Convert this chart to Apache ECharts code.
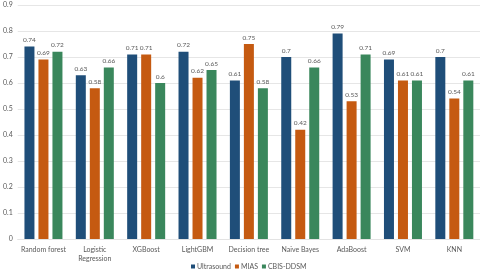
<!DOCTYPE html>
<html><head><meta charset="utf-8">
<script src="https://cdn.jsdelivr.net/npm/echarts@6/dist/echarts.min.js"></script>
<style>html,body{margin:0;padding:0;background:#fff}#c{width:480px;height:272px}</style>
</head><body><div id="c"></div>
<script>
const categories = ['Random forest','Logistic\nRegression','XGBoost','LightGBM','Decision tree','Naive Bayes','AdaBoost','SVM','KNN'];
const ultrasound = [0.74,0.63,0.71,0.72,0.61,0.7,0.79,0.69,0.7];
const mias = [0.69,0.58,0.71,0.62,0.75,0.42,0.53,0.61,0.54];
const cbis = [0.72,0.66,0.6,0.65,0.58,0.66,0.71,0.61,0.61];
const yTicks = [0,0.1,0.2,0.3,0.4,0.5,0.6,0.7,0.8,0.9];
const font = 'Lato, Liberation Sans, sans-serif';
function mk(name, data, color){
  return {name, type:'bar', data, barWidth:10, barGap:'40%',
    itemStyle:{color},
    label:{show:true, position:'top', distance:3, color:'#595959', fontSize:6.5, fontFamily:font}};
}
const chart = echarts.init(document.getElementById('c'));
chart.setOption({
  animation:false,
  grid:{left:17,right:-5,top:5,bottom:33,containLabel:false},
  legend:{top:263,left:191,itemWidth:4,itemHeight:4,itemGap:4,icon:'rect',padding:0,
    textStyle:{color:'#595959',fontSize:7,fontFamily:font,padding:[0,0,0,-3]}},
  xAxis:{type:'category',data:categories,
    axisLine:{show:true,lineStyle:{color:'#e3e3e3'}},axisTick:{show:false},
    axisLabel:{color:'#595959',fontSize:7,fontFamily:font,margin:6,interval:0,lineHeight:9}},
  yAxis:{type:'value',min:0,max:0.9,interval:0.1,
    axisLine:{show:false},axisTick:{show:false},
    splitLine:{lineStyle:{color:'#e6e6e6'}},
    axisLabel:{color:'#595959',fontSize:7,fontFamily:font,margin:5,
      formatter:v=>{const t=yTicks.find(x=>Math.abs(x-v)<1e-9);return t===undefined?'':String(t);}}},
  series:[mk('Ultrasound',ultrasound,'#1f4e79'),mk('MIAS',mias,'#c55a11'),mk('CBIS-DDSM',cbis,'#3a875c')]
});
</script></body></html>
